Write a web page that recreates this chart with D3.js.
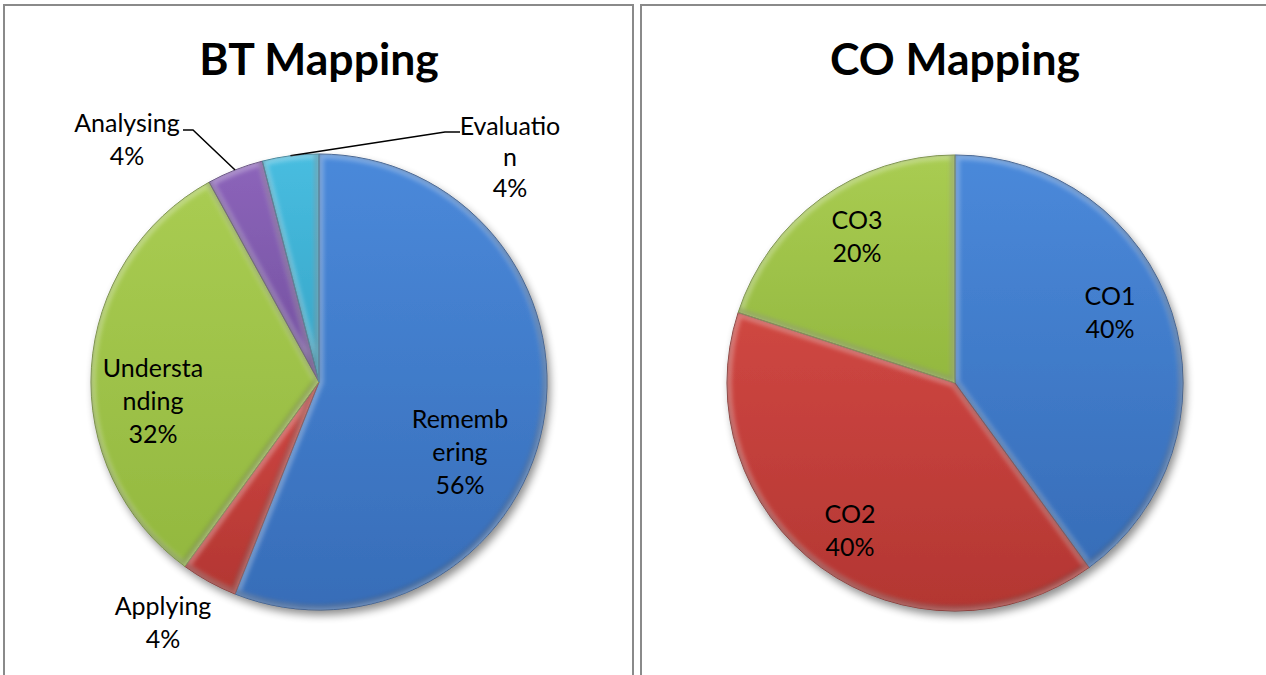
<!DOCTYPE html>
<html>
<head>
<meta charset="utf-8">
<script src="https://cdn.jsdelivr.net/npm/d3@7"></script>
<style>
  html, body { margin: 0; padding: 0; background: #fff; }
  svg { display: block; }
</style>
</head>
<body>
<svg id="chart" width="1266" height="675"></svg>
<script>
// ---- Data ----
const btCategories = ["Remembering", "Applying", "Understanding", "Analysing", "Evaluation"];
const btValues = [14, 1, 8, 1, 1];
const btLabelLines = [["Rememb", "ering"], ["Applying"], ["Understa", "nding"], ["Analysing"], ["Evaluatio", "n"]];

const coCategories = ["CO1", "CO2", "CO3"];
const coValues = [2, 2, 1];
const coLabelLines = [["CO1"], ["CO2"], ["CO3"]];

// ---- Styling / layout ----
const palette = {
  blue:   ["#4a89da", "#376db8"],
  red:    ["#cf4742", "#b33632"],
  green:  ["#a9cc52", "#93b83f"],
  purple: ["#8c64ba", "#72509e"],
  cyan:   ["#48bde0", "#36a4c6"]
};
const btColors = ["blue", "red", "green", "purple", "cyan"];
const coColors = ["blue", "red", "green"];

// label anchor (centre x, first baseline) relative to pie centre; leader = callout line
const btLabelPos = [[141, 46], [-156, 233], [-166, -5], [-192, -250], [191, -247]];
const btLeader = [null, null, null, {text: [-136, -252], elbow: [-126, -252]}, {text: [141, -250], elbow: [126, -250]}];
const coLabelPos = [[155, -78], [-105, 140], [-98, -154]];
const coLeader = [null, null, null];

const svg = d3.select("#chart");
const defs = svg.append("defs");

// soft drop shadow
const shadow = defs.append("filter").attr("id", "shadow")
  .attr("x", "-20%").attr("y", "-20%").attr("width", "140%").attr("height", "140%");
shadow.append("feGaussianBlur").attr("in", "SourceAlpha").attr("stdDeviation", 4).attr("result", "b");
shadow.append("feOffset").attr("in", "b").attr("dx", 3).attr("dy", 5).attr("result", "o");
shadow.append("feComponentTransfer").attr("in", "o").attr("result", "s")
  .append("feFuncA").attr("type", "linear").attr("slope", 0.45);
const merge = shadow.append("feMerge");
merge.append("feMergeNode").attr("in", "s");
merge.append("feMergeNode").attr("in", "SourceGraphic");

// blur for bevel strokes
defs.append("filter").attr("id", "soft")
  .append("feGaussianBlur").attr("stdDeviation", 2.2);

Object.entries(palette).forEach(([k, c]) => {
  const g = defs.append("linearGradient").attr("id", "grad-" + k)
    .attr("x1", 0).attr("y1", 0).attr("x2", 0).attr("y2", 1);
  g.append("stop").attr("offset", "0%").attr("stop-color", c[0]);
  g.append("stop").attr("offset", "100%").attr("stop-color", c[1]);
});

// panel frames
svg.append("rect").attr("x", 4).attr("y", 5).attr("width", 629).attr("height", 700)
  .attr("fill", "none").attr("stroke", "#8a8a8a").attr("stroke-width", 2);
svg.append("rect").attr("x", 641).attr("y", 5).attr("width", 700).attr("height", 700)
  .attr("fill", "none").attr("stroke", "#8a8a8a").attr("stroke-width", 2);

const fontFamily = "Lato, Carlito, 'Liberation Sans', sans-serif";

function drawPie(opts) {
  const {id, cx, cy, r, title, titleX, titleY, cats, vals, lines, colors, labelPos, leaders} = opts;
  const total = d3.sum(vals);
  const pie = d3.pie().sort(null).value(d => d);
  const arcs = pie(vals);
  const arc = d3.arc().innerRadius(0).outerRadius(r);

  svg.append("text")
    .attr("x", titleX).attr("y", titleY)
    .attr("text-anchor", "middle")
    .attr("font-family", fontFamily).attr("font-weight", "bold")
    .attr("font-size", 44.5).attr("fill", "#000")
    .text(title);

  const g = svg.append("g").attr("transform", `translate(${cx},${cy})`);

  // whole-pie shadow
  g.append("g").attr("filter", "url(#shadow)")
    .selectAll("path").data(arcs).join("path")
    .attr("d", arc)
    .attr("fill", (d, i) => `url(#grad-${colors[i]})`);

  // bevel: each slice clipped, with a light blurred rim and a dark lower rim
  arcs.forEach((d, i) => {
    const cid = `clip-${id}-${i}`;
    defs.append("clipPath").attr("id", cid).append("path")
      .attr("d", arc(d)).attr("transform", `translate(${cx},${cy})`);
    const sg = svg.append("g").attr("clip-path", `url(#${cid})`);
    const inner = sg.append("g").attr("transform", `translate(${cx},${cy})`);
    inner.append("path").attr("d", arc(d))
      .attr("fill", "none").attr("stroke", "#ffffff").attr("stroke-opacity", 0.3)
      .attr("stroke-width", 9).attr("filter", "url(#soft)");
    inner.append("path").attr("d", arc(d))
      .attr("transform", "translate(-2,-3)")
      .attr("fill", "none").attr("stroke", "#000000").attr("stroke-opacity", 0.2)
      .attr("stroke-width", 5).attr("filter", "url(#soft)");
  });

  // slice outlines
  g.append("g").selectAll("path").data(arcs).join("path")
    .attr("d", arc)
    .attr("fill", "none")
    .attr("stroke", (d, i) => d3.color(palette[colors[i]][1]).darker(1))
    .attr("stroke-width", 0.9);

  // leader lines
  const outer = d3.arc().innerRadius(r).outerRadius(r);
  arcs.forEach((d, i) => {
    const L = leaders[i];
    if (!L) return;
    const p = outer.centroid(d);
    g.append("polyline")
      .attr("points", [L.text, L.elbow, p].map(q => q.join(",")).join(" "))
      .attr("fill", "none").attr("stroke", "#000").attr("stroke-width", 1.5);
  });

  // data labels
  arcs.forEach((d, i) => {
    const pct = Math.round(vals[i] / total * 100) + "%";
    const all = lines[i].concat([pct]);
    const step = leaders[i] && lines[i].length > 1 ? 31 : 33;
    const t = g.append("text")
      .attr("text-anchor", "middle")
      .attr("font-family", fontFamily).attr("font-size", 25).attr("fill", "#000");
    all.forEach((s, k) => {
      t.append("tspan").attr("x", labelPos[i][0]).attr("y", labelPos[i][1] + k * step).text(s);
    });
  });
}

drawPie({
  id: "bt", cx: 319, cy: 382, r: 228, title: "BT Mapping", titleX: 319, titleY: 75,
  cats: btCategories, vals: btValues, lines: btLabelLines, colors: btColors,
  labelPos: btLabelPos, leaders: btLeader
});
drawPie({
  id: "co", cx: 955, cy: 383, r: 228, title: "CO Mapping", titleX: 955, titleY: 75,
  cats: coCategories, vals: coValues, lines: coLabelLines, colors: coColors,
  labelPos: coLabelPos, leaders: coLeader
});
</script>
</body>
</html>
